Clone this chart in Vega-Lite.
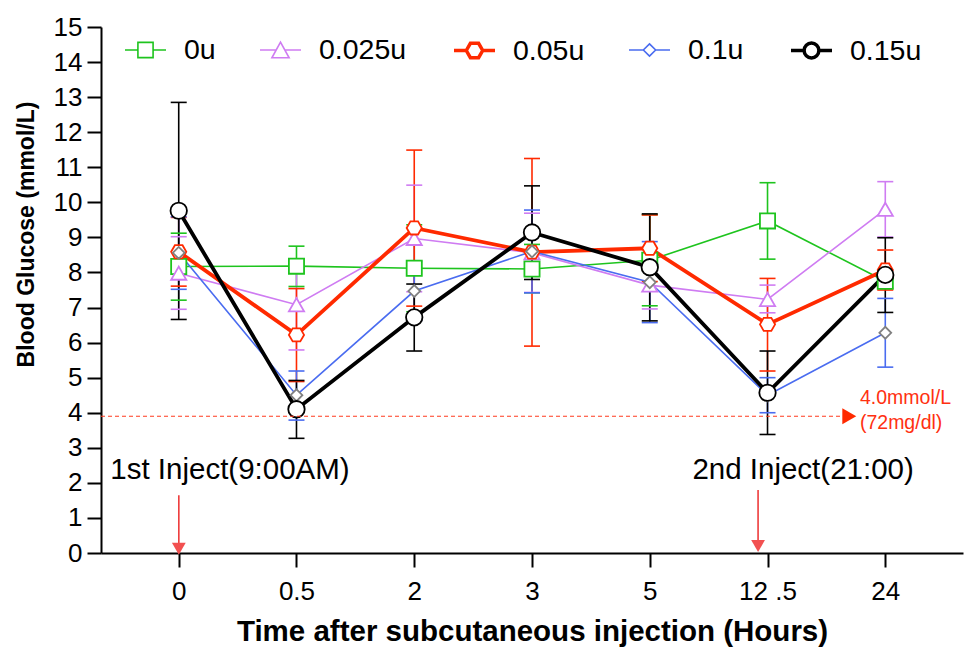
{
  "$schema": "https://vega.github.io/schema/vega-lite/v6.json",
  "autosize": "none",
  "width": 862,
  "height": 526,
  "padding": {"left": 101, "top": 27, "right": 1, "bottom": 95},
  "background": "white",
  "config": {"view": {"stroke": null}, "font": "Liberation Sans"},
  "layer": [
    {
      "data": {"values": [
        {"dose": "0u", "time": "0", "mean": 8.17, "lo": 7.21, "hi": 9.12},
        {"dose": "0u", "time": "0.5", "mean": 8.18, "lo": 7.6, "hi": 8.75},
        {"dose": "0u", "time": "2", "mean": 8.12, "lo": 6.88, "hi": 9.36},
        {"dose": "0u", "time": "3", "mean": 8.1, "lo": 7.42, "hi": 8.8},
        {"dose": "0u", "time": "5", "mean": 8.35, "lo": 7.05, "hi": 9.65},
        {"dose": "0u", "time": "12.5", "mean": 9.47, "lo": 8.38, "hi": 10.56},
        {"dose": "0u", "time": "24", "mean": 7.75, "lo": 7.55, "hi": 7.95},
        {"dose": "0.025u", "time": "0", "mean": 7.98, "lo": 6.95, "hi": 9.02},
        {"dose": "0.025u", "time": "0.5", "mean": 7.08, "lo": 5.79, "hi": 8.37},
        {"dose": "0.025u", "time": "2", "mean": 8.97, "lo": 7.45, "hi": 10.49},
        {"dose": "0.025u", "time": "3", "mean": 8.56, "lo": 7.43, "hi": 9.69},
        {"dose": "0.025u", "time": "5", "mean": 7.64, "lo": 6.96, "hi": 8.32},
        {"dose": "0.025u", "time": "12.5", "mean": 7.23, "lo": 6.85, "hi": 7.64},
        {"dose": "0.025u", "time": "24", "mean": 9.8, "lo": 9.01, "hi": 10.59},
        {"dose": "0.05u", "time": "0", "mean": 8.59, "lo": 7.61, "hi": 9.57},
        {"dose": "0.05u", "time": "0.5", "mean": 6.22, "lo": 4.89, "hi": 7.54},
        {"dose": "0.05u", "time": "2", "mean": 9.27, "lo": 7.04, "hi": 11.49},
        {"dose": "0.05u", "time": "3", "mean": 8.58, "lo": 5.9, "hi": 11.25},
        {"dose": "0.05u", "time": "5", "mean": 8.69, "lo": 7.74, "hi": 9.64},
        {"dose": "0.05u", "time": "12.5", "mean": 6.52, "lo": 5.19, "hi": 7.83},
        {"dose": "0.05u", "time": "24", "mean": 8.07, "lo": 7.5, "hi": 8.64},
        {"dose": "0.1u", "time": "0", "mean": 8.56, "lo": 7.52, "hi": 9.59},
        {"dose": "0.1u", "time": "0.5", "mean": 4.5, "lo": 3.79, "hi": 5.19},
        {"dose": "0.1u", "time": "2", "mean": 7.47, "lo": 6.63, "hi": 8.31},
        {"dose": "0.1u", "time": "3", "mean": 8.6, "lo": 7.42, "hi": 9.78},
        {"dose": "0.1u", "time": "5", "mean": 7.72, "lo": 6.57, "hi": 8.88},
        {"dose": "0.1u", "time": "12.5", "mean": 4.5, "lo": 4.0, "hi": 5.0},
        {"dose": "0.1u", "time": "24", "mean": 6.28, "lo": 5.3, "hi": 7.26},
        {"dose": "0.15u", "time": "0", "mean": 9.76, "lo": 6.66, "hi": 12.85},
        {"dose": "0.15u", "time": "0.5", "mean": 4.1, "lo": 3.27, "hi": 4.92},
        {"dose": "0.15u", "time": "2", "mean": 6.72, "lo": 5.76, "hi": 7.67},
        {"dose": "0.15u", "time": "3", "mean": 9.14, "lo": 7.8, "hi": 10.47},
        {"dose": "0.15u", "time": "5", "mean": 8.15, "lo": 6.62, "hi": 9.67},
        {"dose": "0.15u", "time": "12.5", "mean": 4.57, "lo": 3.38, "hi": 5.76},
        {"dose": "0.15u", "time": "24", "mean": 7.93, "lo": 6.86, "hi": 8.99}
      ]},
      "encoding": {
        "x": {
          "field": "time", "type": "ordinal",
          "sort": ["0", "0.5", "2", "3", "5", "12.5", "24"],
          "scale": {"type": "point", "padding": 0.66},
          "axis": {
            "title": "Time after subcutaneous injection (Hours)",
            "titleFontSize": 29.5, "titleFontWeight": "bold", "titleColor": "black", "titlePadding": 13,
            "labelFontSize": 26, "labelColor": "black", "labelAngle": 0, "labelPadding": 11,
            "labelExpr": "datum.label == '12.5' ? '12 .5' : datum.label",
            "tickSize": 14, "tickWidth": 2, "tickColor": "black",
            "domainWidth": 2, "domainColor": "black", "grid": false
          }
        },
        "y": {
          "field": "mean", "type": "quantitative",
          "scale": {"domain": [0, 15], "nice": false, "zero": true},
          "axis": {
            "title": "Blood Glucose (mmol/L)",
            "titleFontSize": 23, "titleFontWeight": "bold", "titleColor": "black",
            "titleX": -75, "titleY": 207, "titleAngle": 270, "titleAlign": "center", "titleBaseline": "middle",
            "values": [0, 1, 2, 3, 4, 5, 6, 7, 8, 9, 10, 11, 12, 13, 14, 15],
            "labelFontSize": 26, "labelColor": "black", "labelPadding": 5, "labelFlush": false, "labelOverlap": false,
            "tickSize": 14, "tickWidth": 2, "tickColor": "black",
            "domainWidth": 2, "domainColor": "black", "grid": false
          }
        }
      },
      "layer": [
        {
          "layer": [
            {
              "mark": {"type": "rule", "strokeWidth": 1.6, "opacity": 1},
              "encoding": {
                "y": {"field": "lo", "type": "quantitative"}, "y2": {"field": "hi"},
                "color": {"field": "dose", "type": "nominal", "scale": {"domain": ["0u", "0.025u", "0.05u", "0.1u", "0.15u"], "range": ["#1ec41e", "#cf7cf2", "#ff2a00", "#4a6cf0", "#000000"]}, "legend": null}
              }
            },
            {
              "mark": {"type": "tick", "size": 16, "thickness": 1.6, "opacity": 1, "orient": "horizontal"},
              "encoding": {
                "y": {"field": "lo", "type": "quantitative"},
                "color": {"field": "dose", "type": "nominal", "legend": null}
              }
            },
            {
              "mark": {"type": "tick", "size": 16, "thickness": 1.6, "opacity": 1, "orient": "horizontal"},
              "encoding": {
                "y": {"field": "hi", "type": "quantitative"},
                "color": {"field": "dose", "type": "nominal", "legend": null}
              }
            },
            {
              "mark": {"type": "line", "opacity": 1},
              "encoding": {
                "color": {"field": "dose", "type": "nominal", "legend": null},
                "strokeWidth": {"field": "dose", "type": "nominal", "scale": {"type": "ordinal", "domain": ["0u", "0.025u", "0.05u", "0.1u", "0.15u"], "range": [1.6, 1.6, 3.8, 1.6, 3.8]}, "legend": null}
              }
            },
            {
              "mark": {"type": "point", "filled": false, "fill": "white", "strokeWidth": 1.8, "opacity": 1},
              "encoding": {
                "stroke": {"field": "dose", "type": "nominal", "scale": {"domain": ["0u", "0.025u", "0.05u", "0.1u", "0.15u"], "range": ["#1ec41e", "#cf7cf2", "#ff2a00", "#808080", "#000000"]}, "legend": null},
                "shape": {"field": "dose", "type": "nominal", "scale": {"domain": ["0u", "0.025u", "0.05u", "0.1u", "0.15u"], "range": ["square", "triangle-up", "M-1,0L-0.5,-0.866L0.5,-0.866L1,0L0.5,0.866L-0.5,0.866Z", "diamond", "circle"]}, "legend": null},
                "size": {"field": "dose", "type": "nominal", "scale": {"type": "ordinal", "domain": ["0u", "0.025u", "0.05u", "0.1u", "0.15u"], "range": [230, 230, 230, 140, 270]}, "legend": null}
              }
            }
          ]
        },
        {
          "mark": {"type": "point", "filled": false, "opacity": 0},
          "encoding": {
            "shape": {
              "field": "dose", "type": "nominal",
              "scale": {"domain": ["0u", "0.025u", "0.05u", "0.1u", "0.15u"], "range": [
                "M-1,0H-0.37M0.37,0H1M-0.37,-0.37H0.37V0.37H-0.37Z",
                "M-1,0H-0.21M0.21,0H1M0,-0.38L0.42,0.38H-0.42Z",
                "M-1,0H-0.4M0.4,0H1M-0.4,0L-0.2,-0.35H0.2L0.4,0L0.2,0.35H-0.2Z",
                "M-1,0H-0.3M0.3,0H1M0,-0.3L0.3,0L0,0.3L-0.3,0Z",
                "M-1,0H-0.36M0.36,0H1M0.36,0A0.36,0.36,0,1,1,-0.36,0A0.36,0.36,0,1,1,0.36,0Z"
              ]},
              "legend": {
                "orient": "none", "legendX": 22, "legendY": 1, "direction": "horizontal", "columns": 5,
                "title": null, "labelFontSize": 28.5, "labelColor": "black", "labelFont": "Liberation Sans",
                "symbolSize": 1681, "labelOffset": 16, "columnPadding": 40, "symbolOpacity": 1,
                "symbolFillColor": "white"
              }
            },
            "stroke": {"field": "dose", "type": "nominal", "scale": {"domain": ["0u", "0.025u", "0.05u", "0.1u", "0.15u"], "range": ["#1ec41e", "#cf7cf2", "#ff2a00", "#4a6cf0", "#000000"]}},
            "strokeWidth": {"field": "dose", "type": "nominal", "scale": {"type": "ordinal", "domain": ["0u", "0.025u", "0.05u", "0.1u", "0.15u"], "range": [1.6, 1.6, 3.5, 1.6, 3.5]}}
          }
        }
      ],
      "resolve": {"scale": {"shape": "independent", "stroke": "independent", "strokeWidth": "independent", "size": "independent"}}
    },
    {
      "encoding": {
        "x": {"field": "x", "type": "quantitative", "scale": {"domain": [-0.657, 6.62], "nice": false, "zero": false}, "axis": null},
        "y": {
          "field": "y", "type": "quantitative",
          "axis": {
            "title": "Blood Glucose (mmol/L)",
            "titleFontSize": 23, "titleFontWeight": "bold", "titleColor": "black",
            "titleX": -75, "titleY": 207, "titleAngle": 270, "titleAlign": "center", "titleBaseline": "middle",
            "values": [0, 1, 2, 3, 4, 5, 6, 7, 8, 9, 10, 11, 12, 13, 14, 15],
            "labelFontSize": 26, "labelColor": "black", "labelPadding": 5, "labelFlush": false, "labelOverlap": false,
            "tickSize": 14, "tickWidth": 2, "tickColor": "black",
            "domainWidth": 2, "domainColor": "black", "grid": false
          }
        }
      },
      "layer": [
        {
          "data": {"values": [{"x": -0.657, "x2": 5.6, "y": 3.9}]},
          "mark": {"type": "rule", "color": "#ff3b1f", "strokeWidth": 1.2, "strokeDash": [4, 3]},
          "encoding": {"x2": {"field": "x2"}}
        },
        {
          "data": {"values": [{"x": 5.66, "y": 3.9}]},
          "mark": {"type": "point", "shape": "triangle-right", "filled": true, "color": "#ff2a00", "size": 260, "opacity": 1}
        },
        {
          "data": {"values": [{"x": 5.75, "y": 4.43, "label": "4.0mmol/L"}, {"x": 5.75, "y": 3.7, "label": "(72mg/dl)"}]},
          "mark": {"type": "text", "align": "left", "baseline": "middle", "fontSize": 19.5, "color": "#ff3010", "font": "Liberation Sans"},
          "encoding": {"text": {"field": "label"}}
        },
        {
          "data": {"values": [{"x": 0.432, "y": 2.11, "label": "1st Inject(9:00AM)"}, {"x": 5.27, "y": 2.11, "label": "2nd Inject(21:00)"}]},
          "mark": {"type": "text", "align": "center", "baseline": "alphabetic", "fontSize": 29.5, "color": "black", "font": "Liberation Sans"},
          "encoding": {"text": {"field": "label"}}
        },
        {
          "data": {"values": [{"x": 0, "y": 1.65, "y2": 0.2}, {"x": 4.89, "y": 1.8, "y2": 0.25}]},
          "mark": {"type": "rule", "color": "#ee3b3b", "strokeWidth": 1.6},
          "encoding": {"y2": {"field": "y2"}}
        },
        {
          "data": {"values": [{"x": 0, "y": 0.12}, {"x": 4.89, "y": 0.2}]},
          "mark": {"type": "point", "shape": "triangle-down", "filled": true, "color": "#f25050", "size": 190, "opacity": 1}
        }
      ]
    }
  ],
  "resolve": {"scale": {"x": "independent"}, "axis": {"x": "independent"}}
}
